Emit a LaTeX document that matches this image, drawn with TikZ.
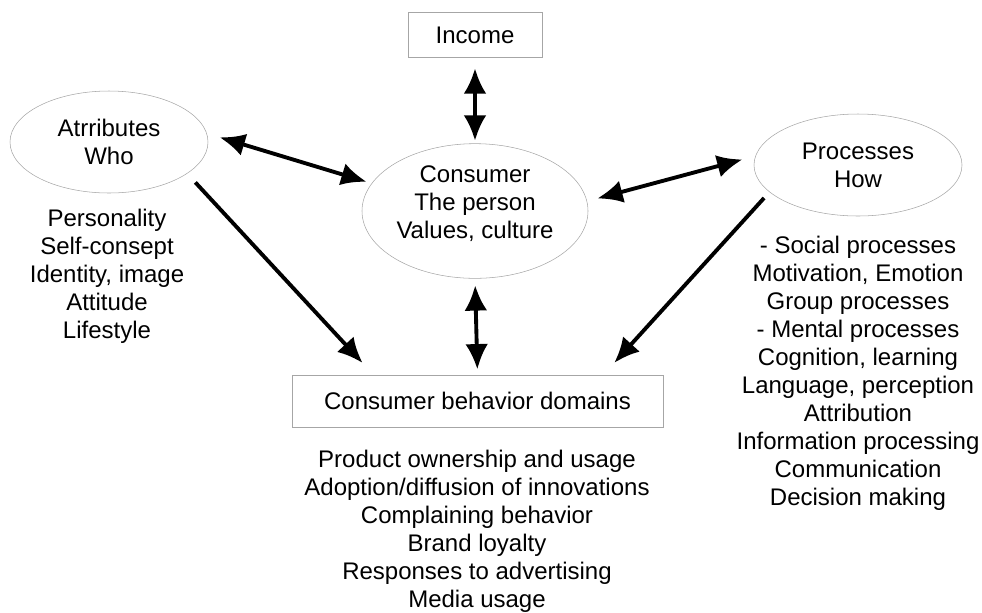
\documentclass[tikz,border=0pt]{standalone}
\usepackage{fontspec}
\setmainfont{Liberation Sans}
\usetikzlibrary{shapes.geometric, arrows.meta}
\tikzset{
  bulle/.style = {
    ellipse, draw=gray!70, thin, inner sep=0pt, align=center
  },
  boite/.style = {
    rectangle, draw=gray!70, thin, align=center
  },
  liste/.style = {
    align=center
  },
  fleche/.style = {
    line width=2.9pt, -{Latex[length=19pt,width=17pt]}
  },
  double fleche/.style = {
    line width=2.9pt, {Latex[length=19pt,width=17pt]}-{Latex[length=19pt,width=17pt]}
  }
}

\begin{document}
\begin{tikzpicture}[x=0.75pt, y=-0.75pt, font=\fontsize{18}{21}\selectfont]
    \useasboundingbox (0,0) rectangle (982,612);
    % les noeuds
    \node[boite, minimum width=100.5pt, minimum height=33.5pt] (revenu) at (475,35) {Income};
    \node[bulle, minimum width=148.5pt, minimum height=76.5pt] (attr) at (109,142) {Atrributes\\Who};
    \node[bulle, minimum width=169.5pt, minimum height=101pt] (conso) at (475,211) {\raisebox{0pt}[0pt][0pt]{\begin{tabular}{@{}c@{}}Consumer\\The person\\Values, culture\end{tabular}}};
    \node[bulle, minimum width=156pt, minimum height=76.5pt] (proc) at (858,165) {Processes\\How};
    \node[boite, minimum width=278pt, minimum height=39pt] (domaines) at (477.5,401) {Consumer behavior domains};
    % les listes
    \node[liste] (traits) at (107,276)
      {Personality\\Self-consept\\Identity, image\\Attitude\\Lifestyle};
    \node[liste] (processus) at (858,373)
      {- Social processes\\Motivation, Emotion\\Group processes\\- Mental processes\\Cognition, learning\\Language, perception\\Attribution\\Information processing\\Communication\\Decision making};
    \node[liste] (exemples) at (477,531)
      {Product ownership and usage\\Adoption/diffusion of innovations\\Complaining behavior\\Brand loyalty\\Responses to advertising\\Media usage};
    % les flèches
    \path
      (revenu.south) edge[double fleche, shorten <=8pt, shorten >=2pt] (conso.north)
      (conso.south) edge[double fleche, shorten <=5pt, shorten >=4pt] (domaines.north)
      (attr.5) edge[double fleche, shorten <=10pt, shorten >=4pt] (conso.165)
      (conso.5) edge[double fleche, shorten <=8pt, shorten >=10pt] (proc.175)
      (attr.-22) edge[fleche, shorten <=9pt, shorten >=12pt] ([xshift=-78pt]domaines.north)
      (proc.197) edge[fleche, shorten <=6pt, shorten >=12pt] ([xshift=94.5pt]domaines.north)
    ;
\end{tikzpicture}
\end{document}
